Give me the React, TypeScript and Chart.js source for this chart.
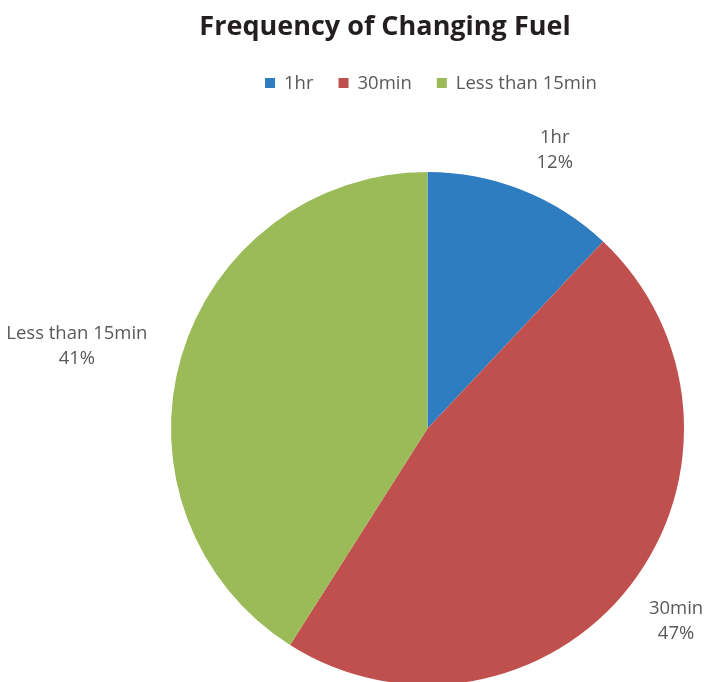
import React, { useEffect, useRef } from "react";
import { Chart, registerables } from "chart.js";

Chart.register(...registerables);

const TITLE = "Frequency of Changing Fuel";
const categories = ["1hr", "30min", "Less than 15min"];
const values = [12, 47, 41];
const colors = ["#2E7DC1", "#C0504D", "#9BBB59"];
// label anchor offsets relative to pie centre, in units of radius
const labelOffsetX = [0.496, 0.969, -1.367];
const labelOffsetY = [-1.086, 0.75, -0.324];

const overlayPlugin = {
  id: "overlay",
  afterDraw(chart: any) {
    const ctx = chart.ctx as CanvasRenderingContext2D;
    const meta = chart.getDatasetMeta(0);
    const arc0 = meta.data[0] as any;
    const cx = arc0.x;
    const cy = arc0.y;
    const r = arc0.outerRadius;
    const total = values.reduce((a, b) => a + b, 0);

    ctx.save();
    // title
    ctx.fillStyle = "#231F20";
    ctx.font = "bold 27px 'Open Sans'";
    ctx.textAlign = "center";
    ctx.textBaseline = "middle";
    ctx.fillText(TITLE, 385, 27);

    // legend
    ctx.font = "18.5px 'Open Sans'";
    ctx.textAlign = "left";
    const box = 10;
    const gapBoxText = 9;
    const gapItems = 25;
    const widths = categories.map((c) => box + gapBoxText + ctx.measureText(c).width);
    const totalW = widths.reduce((a, b) => a + b, 0) + gapItems * (categories.length - 1);
    let x = 431 - totalW / 2;
    const ly = 83;
    categories.forEach((c, i) => {
      ctx.fillStyle = colors[i];
      ctx.fillRect(x, ly - box / 2, box, box);
      ctx.fillStyle = "#595959";
      ctx.fillText(c, x + box + gapBoxText, ly + 1);
      x += widths[i] + gapItems;
    });

    // data labels
    ctx.textAlign = "center";
    ctx.fillStyle = "#595959";
    ctx.font = "18.5px 'Open Sans'";
    categories.forEach((c, i) => {
      const px = cx + r * labelOffsetX[i];
      const py = cy + r * labelOffsetY[i];
      const pct = Math.round((values[i] / total) * 100) + "%";
      ctx.fillText(c, px, py - 12);
      ctx.fillText(pct, px, py + 13);
    });
    ctx.restore();
  },
};

export default function App() {
  const ref = useRef<HTMLCanvasElement | null>(null);
  useEffect(() => {
    if (!ref.current) return;
    const chart = new Chart(ref.current, {
      type: "pie",
      data: {
        labels: categories,
        datasets: [
          {
            data: values,
            backgroundColor: colors,
            borderWidth: 0,
          },
        ],
      },
      options: {
        responsive: false,
        animation: false,
        layout: { padding: { left: 171, right: 23, top: 172, bottom: 15 } },
        plugins: {
          legend: { display: false },
          title: { display: false },
          tooltip: { enabled: false },
        },
      },
      plugins: [overlayPlugin],
    });
    return () => chart.destroy();
  }, []);
  return (
    <div
      style={{
        position: "absolute",
        left: 0,
        top: 0,
        width: 707,
        height: 682,
        overflow: "hidden",
        background: "#fff",
      }}
    >
      <canvas ref={ref} width={707} height={700} style={{ display: "block" }} />
    </div>
  );
}
